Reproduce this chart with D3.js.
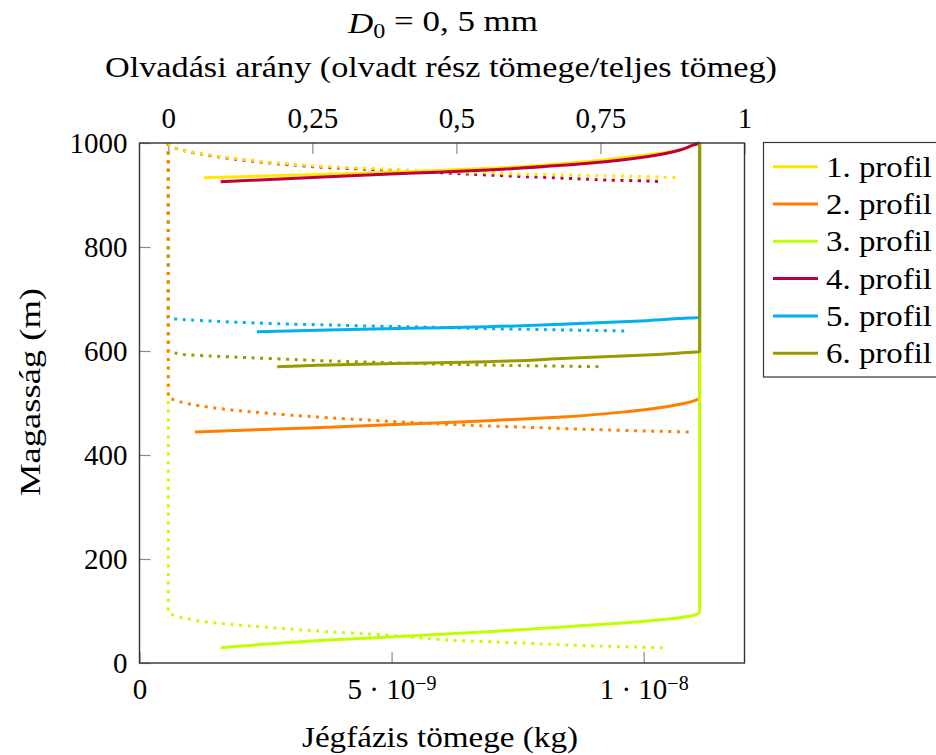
<!DOCTYPE html>
<html><head><meta charset="utf-8">
<script src="https://cdn.jsdelivr.net/npm/d3@7"></script>
<style>
body{margin:0;background:#fff}
svg text{font-family:"Liberation Serif","DejaVu Serif",serif !important;fill:#000}
</style>
</head><body>
<svg id="chart" width="936" height="755" font-family="Liberation Serif"></svg>
<script>
// ---------- data ----------
const profileNames = ["1. profil","2. profil","3. profil","4. profil","5. profil","6. profil"];
const profileColors = ["#ffe800","#ff8000","#c0ff00","#c0003c","#00b0f0","#9a9a00"];

// Solid lines: ice-phase mass (kg) vs height (m)
const solidH1 = [1000, 995.8, 986.5, 976.9, 961.0, 951.3, 944.8, 939.8, 933.3];
const solidM1 = [11.11e-9, 10.98e-9, 10.72e-9, 10.06e-9, 8.48e-9, 6.91e-9, 5.33e-9, 3.75e-9, 1.28e-9];
const solidH2 = [1000, 510.5, 504.4, 492.9, 483.3, 473.7, 465.9, 459.6, 453.3, 448.1, 444.2];
const solidM2 = [11.11e-9, 11.11e-9, 11.01e-9, 10.45e-9, 9.66e-9, 8.48e-9, 6.91e-9, 5.33e-9, 3.75e-9, 2.18e-9, 1.10e-9];
const solidH3 = [1000, 98.7, 92.3, 84.0, 77.5, 69.8, 60.2, 51.9, 44.2, 29.4];
const solidM3 = [11.11e-9, 11.11e-9, 11.01e-9, 10.45e-9, 9.66e-9, 8.48e-9, 6.91e-9, 5.33e-9, 3.75e-9, 1.61e-9];
const solidH4 = [1000, 995.8, 986.5, 973.7, 957.7, 948.1, 941.7, 935.2, 925.6];
const solidM4 = [11.11e-9, 10.98e-9, 10.72e-9, 10.06e-9, 8.48e-9, 6.91e-9, 5.33e-9, 3.75e-9, 1.61e-9];
const solidH5 = [1000, 664.8, 662.5, 658.3, 651.9, 646.7, 643.7, 640.4, 637.1];
const solidM5 = [11.11e-9, 11.11e-9, 10.72e-9, 10.06e-9, 8.48e-9, 6.91e-9, 5.33e-9, 3.75e-9, 2.33e-9];
const solidH6 = [1000, 598.7, 596.2, 592.3, 586.0, 579.4, 576.3, 573.1, 569.8];
const solidM6 = [11.11e-9, 11.11e-9, 10.72e-9, 10.06e-9, 8.48e-9, 6.91e-9, 5.33e-9, 3.75e-9, 2.73e-9];

// Dotted lines: melt fraction vs height (m)
const dotH1 = [1000, 989.8, 976.9, 967.3, 959.6, 954.4, 951.3, 948.1, 944.8, 942.9, 939.8, 938.5, 937.1, 935.2, 933.3];
const dotF1 = [0, 0.013, 0.072, 0.140, 0.209, 0.278, 0.347, 0.416, 0.485, 0.554, 0.623, 0.692, 0.761, 0.830, 0.885];
const dotH2 = [1000, 510.5, 507.7, 498.1, 491.7, 483.3, 476.9, 471.7, 467.3, 462.9, 459.0, 455.8, 453.3, 450.6, 448.1, 446.2, 444.2];
const dotF2 = [0, 0, 0.006, 0.037, 0.072, 0.140, 0.209, 0.278, 0.347, 0.416, 0.485, 0.554, 0.623, 0.692, 0.761, 0.830, 0.906];
const dotH3 = [1000, 98.7, 90.4, 84.0, 78.3, 71.2, 65.4, 60.2, 55.8, 50.6, 44.2, 41.0, 37.9, 34.6, 32.1, 29.4];
const dotF3 = [0, 0, 0.013, 0.037, 0.072, 0.140, 0.209, 0.278, 0.347, 0.416, 0.485, 0.554, 0.623, 0.692, 0.761, 0.858];
const dotH4 = [1000, 989.8, 976.0, 966.0, 958.3, 952.9, 949.4, 945.8, 942.3, 938.5, 935.2, 932.1, 928.8, 926.9, 925.6];
const dotF4 = [0, 0.013, 0.072, 0.140, 0.209, 0.278, 0.347, 0.416, 0.485, 0.554, 0.623, 0.692, 0.761, 0.830, 0.858];
const dotH5 = [1000, 664.4, 662.9, 659.6, 657.7, 654.4, 651.9, 650.0, 648.1, 646.7, 644.8, 642.9, 641.7, 640.4, 638.5];
const dotF5 = [0, 0, 0.006, 0.037, 0.072, 0.140, 0.209, 0.278, 0.347, 0.416, 0.485, 0.554, 0.623, 0.692, 0.796];
const dotH6 = [1000, 598.7, 597.5, 592.3, 590.4, 587.1, 584.0, 580.8, 578.8, 576.3, 574.4, 573.1, 571.7, 569.8];
const dotF6 = [0, 0, 0.006, 0.037, 0.072, 0.140, 0.209, 0.278, 0.347, 0.416, 0.485, 0.554, 0.623, 0.754];

const yTicks = [0, 200, 400, 600, 800, 1000];
const bottomTicks = [0, 5e-9, 1e-8];
const bottomTickLabels = [["0", null], ["5 · 10", "−9"], ["1 · 10", "−8"]];
const topTicks = [0, 0.25, 0.5, 0.75, 1];
const topTickLabels = ["0", "0,25", "0,5", "0,75", "1"];

const solidH = [solidH1, solidH2, solidH3, solidH4, solidH5, solidH6];
const solidM = [solidM1, solidM2, solidM3, solidM4, solidM5, solidM6];
const dotH = [dotH1, dotH2, dotH3, dotH4, dotH5, dotH6];
const dotF = [dotF1, dotF2, dotF3, dotF4, dotF5, dotF6];

// ---------- layout ----------
const L = 139.5, R = 744.5, T = 143, B = 663;
const FS = 29;
const FONT = "Liberation Serif";
const svg = d3.select("#chart");

const x = d3.scaleLinear().domain([0, 1.2e-8]).range([L, R]);
const xTop = d3.scaleLinear().domain([-0.05, 1]).range([L, R]);
const y = d3.scaleLinear().domain([0, 1000]).range([B, T]);

function styleAxis(g) {
  g.attr("font-family", FONT);
  g.select(".domain").remove();
  g.selectAll(".tick line").attr("stroke", "#8c8c8c").attr("stroke-width", 1.2);
  g.selectAll(".tick text").attr("font-family", FONT).style("font-size", FS + "px").attr("fill", "#000");
}

// left axis
svg.append("g").attr("transform", `translate(${L},0)`)
  .call(d3.axisLeft(y).tickValues(yTicks).tickSize(-11).tickPadding(12).tickFormat(d3.format("d")))
  .call(styleAxis);

// bottom axis
const gb = svg.append("g").attr("transform", `translate(0,${B})`)
  .call(d3.axisBottom(x).tickValues(bottomTicks).tickSize(-11).tickPadding(15).tickFormat(""))
  .call(styleAxis);
gb.selectAll(".tick text").each(function(d, i) {
  const t = d3.select(this);
  t.text(null);
  const lab = bottomTickLabels[i];
  t.append("tspan").text(lab[0]);
  if (lab[1]) t.append("tspan").attr("dy", "-0.45em").style("font-size", "20px").text(lab[1]);
});

// top axis
svg.append("g").attr("transform", `translate(0,${T})`)
  .call(d3.axisTop(xTop).tickValues(topTicks).tickSize(-11).tickPadding(15).tickFormat((d, i) => topTickLabels[i]))
  .call(styleAxis);

// lines
const lineM = d3.line().x(d => x(d[0])).y(d => y(d[1])).curve(d3.curveMonotoneY);
const lineF = d3.line().x(d => xTop(d[0])).y(d => y(d[1])).curve(d3.curveMonotoneY);

const plot = svg.append("g");
for (let k = 5; k >= 0; k--) {
  const pts = dotH[k].map((h, i) => [dotF[k][i], h]);
  plot.append("path").attr("d", lineF(pts)).attr("fill", "none")
    .attr("stroke", profileColors[k]).attr("stroke-width", 3)
    .attr("stroke-dasharray", "3 5.6");
}
for (let k = 0; k < 6; k++) {
  const pts = solidH[k].map((h, i) => [solidM[k][i], h]);
  plot.append("path").attr("d", lineM(pts)).attr("fill", "none")
    .attr("stroke", profileColors[k]).attr("stroke-width", 3);
}

// frame
svg.append("rect").attr("x", L).attr("y", T).attr("width", R - L).attr("height", B - T)
  .attr("fill", "none").attr("stroke", "#333").attr("stroke-width", 1.4);

function label(sel, len) {
  sel.attr("font-family", FONT).style("font-size", FS + "px");
  if (len) sel.attr("textLength", len).attr("lengthAdjust", "spacingAndGlyphs");
  return sel;
}

// titles
svg.append("text").attr("x", 443).attr("y", 33).attr("text-anchor", "middle")
  .call(t => {
    t.append("tspan").style("font-style", "italic").text("D");
    t.append("tspan").attr("dy", "0.25em").style("font-size", "20px").text("0");
    t.append("tspan").attr("dy", "-0.25em").text(" = 0, 5 mm");
  })
  .call(t => label(t, 190));
svg.append("text").attr("x", 441).attr("y", 77).attr("text-anchor", "middle")
  .text("Olvadási arány (olvadt rész tömege/teljes tömeg)").call(t => label(t, 672));
svg.append("text").attr("x", 440).attr("y", 747).attr("text-anchor", "middle")
  .text("Jégfázis tömege (kg)").call(t => label(t, 276));
svg.append("text").attr("transform", "translate(40,392) rotate(-90)").attr("text-anchor", "middle")
  .text("Magasság (m)").call(t => label(t, 208));

// legend
const lg = svg.append("g");
lg.append("rect").attr("x", 763.5).attr("y", 142.5).attr("width", 220).attr("height", 234.5)
  .attr("fill", "#fff").attr("stroke", "#333").attr("stroke-width", 1.2);
profileNames.forEach((n, i) => {
  const cy = 166.7 + i * 37.3;
  lg.append("line").attr("x1", 773).attr("x2", 818).attr("y1", cy).attr("y2", cy)
    .attr("stroke", profileColors[i]).attr("stroke-width", 3);
  lg.append("text").attr("x", 826).attr("y", cy + 10).text(n).call(t => label(t, 106));
});
</script>
</body></html>
